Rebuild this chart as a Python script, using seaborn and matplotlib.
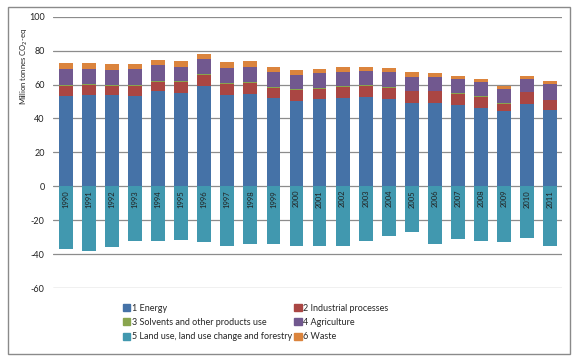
import matplotlib
matplotlib.use("Agg")
import matplotlib.pyplot as plt
import matplotlib.patches as mpatches
import numpy as np
import pandas as pd
import seaborn as sns

years = [str(y) for y in range(1990, 2012)]
energy = [53.5, 53.7, 53.9, 53.5, 55.9, 55.1, 59.4, 54.1, 54.7, 51.8, 50.4,
          51.4, 51.9, 52.9, 51.6, 49.2, 49.2, 47.8, 46.1, 44.3, 48.4, 44.7]
industrial = [5.7, 6.0, 5.3, 5.7, 5.8, 6.6, 6.2, 6.2, 6.4, 6.2, 6.6,
              6.2, 6.7, 6.3, 6.6, 6.7, 6.7, 6.7, 6.6, 4.5, 6.9, 6.0]
solvents = [0.4] * 22
agriculture = [9.3, 8.8, 9.1, 9.3, 9.2, 8.4, 8.8, 8.8, 8.6, 8.8, 8.0,
               8.6, 8.2, 8.2, 8.6, 8.4, 8.0, 8.2, 8.2, 8.2, 7.6, 9.5]
landuse = [-37.1, -37.9, -35.9, -32.0, -32.0, -31.4, -33.0, -35.3, -34.3, -34.0, -35.4,
           -35.5, -35.5, -32.4, -29.2, -26.8, -34.1, -31.2, -32.4, -32.8, -30.6, -35.1]
waste = [3.6, 4.0, 3.4, 3.2, 3.3, 3.5, 3.3, 3.6, 3.6, 3.1, 3.4,
         2.7, 2.9, 2.7, 2.5, 2.5, 2.5, 2.1, 2.2, 2.0, 1.9, 1.6]

labels = ["1 Energy", "2 Industrial processes", "3 Solvents and other products use",
          "4 Agriculture", "5 Land use, land use change and forestry", "6 Waste"]
colors = ["#4572A7", "#AA4643", "#89A54E", "#71588F", "#4198AF", "#DB843D"]

sns.set_theme(style="white")
plt.rcParams["font.family"] = ["Lato", "DejaVu Sans"]
plt.rcParams["axes.unicode_minus"] = False

df = pd.DataFrame({"year": years, "energy": energy, "industrial": industrial,
                   "solvents": solvents, "agriculture": agriculture,
                   "waste": waste, "landuse": landuse})
c1 = df["energy"]
c2 = c1 + df["industrial"]
c3 = c2 + df["solvents"]
c4 = c3 + df["agriculture"]
c5 = c4 + df["waste"]

fig = plt.figure(figsize=(5.78, 3.61), dpi=100)
ax = fig.add_axes([53 / 578, 1 - 288 / 361, (561.7 - 53) / 578, (288 - 16.7) / 361])

layers = [(c5, colors[5]), (c4, colors[3]), (c3, colors[2]), (c2, colors[1]), (c1, colors[0])]
for vals, col in layers:
    sns.barplot(x=df["year"], y=vals, color=col, width=0.6, ax=ax,
                saturation=1, edgecolor="none", zorder=3)
sns.barplot(x=df["year"], y=df["landuse"], color=colors[4], width=0.6, ax=ax,
            saturation=1, edgecolor="none", zorder=3)

for i, y in enumerate(years):
    ax.text(i, -2.2, y, rotation=90, ha="center", va="top", fontsize=5.5,
            color="#222222", zorder=4)

ax.set_ylim(-60, 100)
ax.set_xlim(-0.56, 21.5)
ax.set_yticks(range(-60, 101, 20))
ax.yaxis.grid(True, color="#8c8c8c", linewidth=0.9)
ax.set_axisbelow(True)
for s in ax.spines.values():
    s.set_visible(False)
ax.set_xticks([])
ax.set_xlabel("")
ax.tick_params(axis="y", labelsize=6.5, pad=6, length=0, labelcolor="#222222")
ax.set_ylabel("Million tonnes CO$_2$-eq", fontsize=5.5, color="#222222")
ax.yaxis.set_label_coords(-0.045, 0.816)

handles = [mpatches.Patch(color=colors[i], label=labels[i]) for i in range(6)]
h = [handles[0], handles[2], handles[4], handles[1], handles[3], handles[5]]
fig.legend(handles=h, labels=[x.get_label() for x in h], ncol=2, loc="upper left",
           bbox_to_anchor=(118 / 578, 1 - 299 / 361), frameon=False, fontsize=6.5,
           handlelength=0.8, handleheight=0.8, handletextpad=0.2,
           columnspacing=0.3, labelspacing=0.6, borderpad=0)

fig.patches.append(mpatches.Rectangle((8 / 578, 1 - 354 / 361), 562 / 578, 347 / 361,
                                      transform=fig.transFigure, fill=False,
                                      edgecolor="#8a8a8a", linewidth=1))

fig.savefig("out.png", dpi=100)
